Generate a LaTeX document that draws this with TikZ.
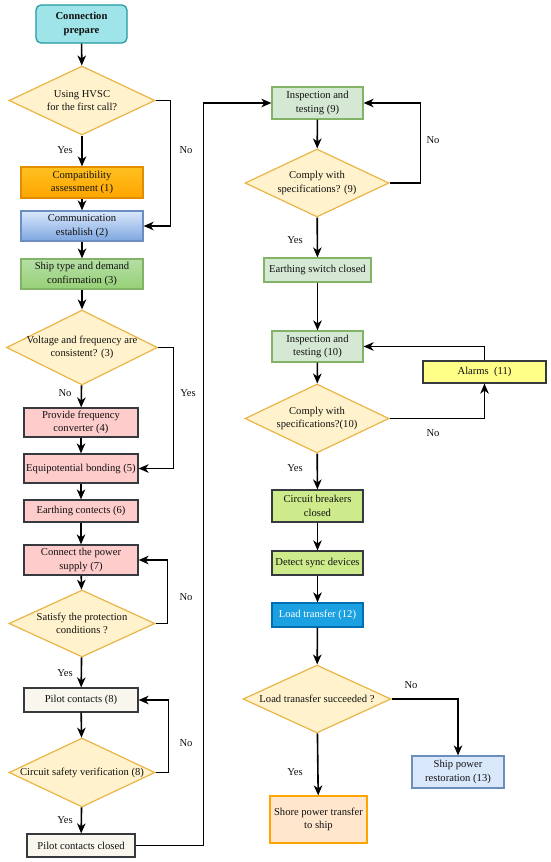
\documentclass[tikz,border=0pt]{standalone}
\usepackage{fontspec}
\setmainfont{Liberation Serif}
\usetikzlibrary{shapes.geometric,arrows.meta,calc}
\definecolor{txt}{HTML}{111111}
\definecolor{dkgray}{HTML}{36393D}
\definecolor{prepfill}{HTML}{9FE4E8}
\definecolor{prepline}{HTML}{1E9AA0}
\definecolor{decfill}{HTML}{FFF2CC}
\definecolor{decline}{HTML}{EBB447}
\definecolor{orgtop}{HTML}{FFC020}
\definecolor{orgbot}{HTML}{FFA500}
\definecolor{orgline}{HTML}{E08E00}
\definecolor{blutop}{HTML}{DAE8FC}
\definecolor{blubot}{HTML}{7EA6E0}
\definecolor{bluline}{HTML}{6C8EBF}
\definecolor{grntop}{HTML}{B5DFA5}
\definecolor{grnbot}{HTML}{97D077}
\definecolor{grnline}{HTML}{82B366}
\definecolor{pinkfill}{HTML}{FFCCCC}
\definecolor{beigefill}{HTML}{F9F7ED}
\definecolor{ltgreen}{HTML}{D5E8D4}
\definecolor{alarmfill}{HTML}{FFFF88}
\definecolor{limefill}{HTML}{CDEB8B}
\definecolor{loadfill}{HTML}{1BA1E2}
\definecolor{loadline}{HTML}{006EAF}
\definecolor{peach}{HTML}{FFE6CC}
\definecolor{peachline}{HTML}{FFA500}
\tikzset{
  fnt/.style={font=\fontsize{10.6}{13.5}\selectfont, text=txt, align=center},
  proc/.style={fnt, rectangle, draw, line width=1.2pt, inner sep=1pt},
  sz/.style 2 args={minimum width=#1pt, minimum height=#2pt},
  dec/.style={diamond, draw=decline, fill=decfill, line width=1.2pt, inner sep=0pt},
  dectext/.style={fnt, inner sep=0pt},
  arr/.style={line width=1.6pt, -{Stealth[length=10pt,width=8.5pt,inset=3pt]}},
  lbl/.style={fnt, inner sep=0pt}
}
\begin{document}
\begin{tikzpicture}[x=1pt,y=-1pt]
\useasboundingbox (0,0) rectangle (550,862);
% ---- left column ----
\node[proc, sz={91}{38}, draw=prepline, fill=prepfill, rounded corners=5pt, font=\fontsize{10.6}{13.5}\selectfont\bfseries] (prep) at (81.5,24) {Connection\\prepare};
\node[dec, sz={146}{69}, label={[dectext]center:{Using HVSC\\for the first call?}}] (d1) at (82,100.5) {};
\node[proc, sz={122}{31}, draw=orgline, top color=orgtop, bottom color=orgbot] (comp) at (82,182.5) {Compatibility\\assessment (1)};
\node[proc, sz={122}{30}, draw=bluline, top color=blutop, bottom color=blubot] (comm) at (82,226) {Communication\\establish (2)};
\node[proc, sz={122}{30}, draw=grnline, top color=grntop, bottom color=grnbot] (ship) at (82,274) {Ship type and demand\\confirmation (3)};
\node[dec, sz={151}{75}, label={[dectext]center:{Voltage and frequency are\\consistent? (3)}}] (d2) at (82,347.5) {};
\node[proc, sz={114}{29}, draw=dkgray, fill=pinkfill] (conv) at (81,422.5) {Provide frequency\\converter (4)};
\node[proc, sz={114}{29}, draw=dkgray, fill=pinkfill] (equi) at (81,468.5) {Equipotential bonding (5)};
\node[proc, sz={114}{22}, draw=dkgray, fill=pinkfill] (earth) at (81,511) {Earthing contects (6)};
\node[proc, sz={114}{30}, draw=dkgray, fill=pinkfill] (conn) at (81,560) {Connect the power\\supply (7)};
\node[dec, sz={146}{67}, label={[dectext]center:{Satisfy the protection\\conditions ?}}] (d3) at (82,623.5) {};
\node[proc, sz={114}{24}, draw=dkgray, fill=beigefill] (pilot) at (81,700) {Pilot contacts (8)};
\node[dec, sz={146}{69}, label={[dectext]center:{Circuit safety verification (8)}}] (d4) at (82,772.5) {};
\node[proc, sz={108}{23}, draw=dkgray, fill=beigefill] (pclosed) at (81,845.5) {Pilot contacts closed};
% ---- right column ----
\node[proc, sz={91}{32}, draw=grnline, fill=ltgreen] (insp9) at (317.5,103) {Inspection and\\testing (9)};
\node[dec, sz={144}{68}, label={[dectext]center:{Comply with\\specifications? (9)}}] (d5) at (317,183) {};
\node[proc, sz={107}{24}, draw=grnline, fill=ltgreen] (eswitch) at (317.5,270) {Earthing switch closed};
\node[proc, sz={91}{31}, draw=grnline, fill=ltgreen] (insp10) at (317.5,346.5) {Inspection and\\testing (10)};
\node[proc, sz={123}{22}, draw=dkgray, fill=alarmfill] (alarms) at (484.5,372) {Alarms~~(11)};
\node[dec, sz={144}{69}, label={[dectext]center:{Comply with\\specifications?(10)}}] (d6) at (317,418.5) {};
\node[proc, sz={91}{32}, draw=dkgray, fill=limefill] (cb) at (317.5,506) {Circuit breakers\\closed};
\node[proc, sz={91}{24}, draw=dkgray, fill=limefill] (sync) at (317.5,563) {Detect sync devices};
\node[proc, sz={91}{24}, draw=loadline, fill=loadfill, text=white] (load) at (317.5,615) {Load transfer (12)};
\node[dec, sz={148}{68}, label={[dectext]center:{Load tranasfer succeeded ?}}] (d7) at (317,699) {};
\node[proc, sz={92}{32}, draw=bluline, fill=blutop] (restore) at (458,772) {Ship power\\restoration (13)};
\node[proc, sz={97}{47}, draw=peachline, fill=peach] (shore) at (318.5,819.5) {Shore power transfer\\to ship};
% ---- connectors left ----
\draw[arr] (prep) -- (d1);
\draw[arr] (d1) -- (comp);
\draw[arr] (d1.east) -- ++(15,0) |- (comm.east);
\draw[arr] (comp) -- (comm);
\draw[arr] (comm) -- (ship);
\draw[arr] (ship) -- (d2);
\draw[arr] (d2) -- (conv);
\draw[arr] (d2.east) -- ++(15.5,0) |- (equi.east);
\draw[arr] (conv) -- (equi);
\draw[arr] (equi) -- (earth);
\draw[arr] (earth) -- (conn);
\draw[arr] (conn) -- (d3);
\draw[arr] (d3.east) -- ++(12,0) |- (conn.east);
\draw[arr] (d3) -- (pilot);
\draw[arr] (pilot) -- (d4);
\draw[arr] (d4.east) -- ++(13,0) |- (pilot.east);
\draw[arr] (d4) -- (pclosed);
\draw[arr] (pclosed.east) -- ++(68,0) |- (insp9.west);
% ---- connectors right ----
\draw[arr] (insp9) -- (d5);
\draw[arr] (d5.east) -- ++(31,0) |- (insp9.east);
\draw[arr] (d5) -- (eswitch);
\draw[arr] (eswitch) -- (insp10);
\draw[arr] (insp10) -- (d6);
\draw[arr] (d6.east) -| (alarms.south);
\draw[arr] (alarms.north) |- (insp10.east);
\draw[arr] (d6) -- (cb);
\draw[arr] (cb) -- (sync);
\draw[arr] (sync) -- (load);
\draw[arr] (load) -- (d7);
\draw[arr] (d7.east) -| (restore.north);
\draw[arr] (d7) -- (shore);
% ---- labels ----
\node[lbl] (y1) at (65,150) {Yes};
\node[lbl] (n1) at (186,150) {No};
\node[lbl] (n2) at (65,393) {No};
\node[lbl] (y2) at (188,393) {Yes};
\node[lbl] (n3) at (186,597) {No};
\node[lbl] (y3) at (65,673) {Yes};
\node[lbl] (n4) at (186,743) {No};
\node[lbl] (y4) at (65,820) {Yes};
\node[lbl] (n5) at (433,140) {No};
\node[lbl] (y5) at (295,240) {Yes};
\node[lbl] (n6) at (433,433) {No};
\node[lbl] (y6) at (295,468) {Yes};
\node[lbl] (n7) at (411,685) {No};
\node[lbl] (y7) at (295,772) {Yes};
\end{tikzpicture}
\end{document}
